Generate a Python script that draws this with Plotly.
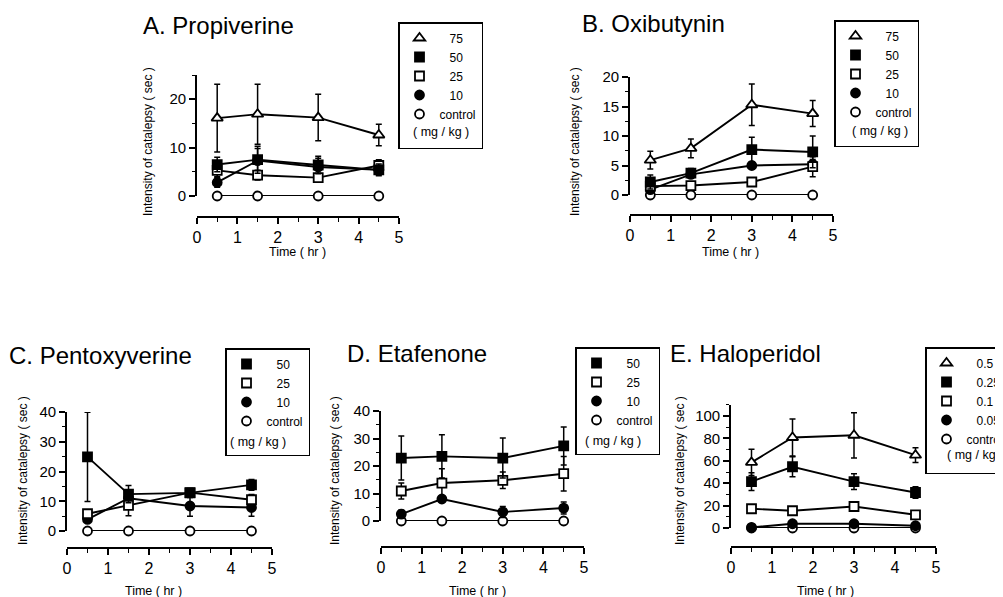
import plotly.graph_objects as go

# ---------------- data ----------------
times = [0.5, 1.5, 3, 4.5]

# A. Propiverine (mg/kg)
prop_75 = [16.1, 16.9, 16.2, 12.6]
prop_75_err = [7.0, 6.2, 4.8, 2.2]
prop_50 = [6.5, 7.5, 6.4, 5.4]
prop_50_err = [1.5, 2.8, 1.8, 1.2]
prop_25 = [5.3, 4.3, 3.8, 6.3]
prop_25_err = [1.3, 1.0, 0.9, 1.2]
prop_10 = [2.8, 7.3, 6.0, 5.4]
prop_10_err = [1.0, 2.5, 1.8, 1.0]
prop_ctl = [0, 0, 0, 0]

# B. Oxibutynin
oxi_75 = [5.9, 7.9, 15.3, 13.8]
oxi_75_err = [1.5, 1.6, 3.5, 2.2]
oxi_50 = [2.2, 3.7, 7.7, 7.3]
oxi_50_err = [1.2, 0.8, 2.1, 2.7]
oxi_25 = [1.5, 1.6, 2.2, 4.8]
oxi_25_err = [0.5, 0.5, 0.6, 1.7]
oxi_10 = [0.9, 3.5, 5.0, 5.2]
oxi_10_err = [0.5, 0.6, 0.6, 0.8]
oxi_ctl = [0, 0, 0, 0]

# C. Pentoxyverine
pent_50 = [24.9, 12.4, 12.8, 15.5]
pent_50_err = [15.0, 2.9, 1.5, 1.8]
pent_25 = [5.8, 8.6, 12.9, 10.5]
pent_25_err = [1.0, 3.5, 1.0, 1.8]
pent_10 = [3.9, 11.0, 8.4, 7.9]
pent_10_err = [1.0, 1.5, 3.4, 2.9]
pent_ctl = [0, 0, 0, 0]

# D. Etafenone
eta_50 = [22.9, 23.5, 22.9, 27.3]
eta_50_err = [8.0, 7.9, 7.3, 6.9]
eta_25 = [10.9, 13.8, 14.8, 17.2]
eta_25_err = [2.9, 5.2, 3.0, 6.3]
eta_10 = [2.5, 8.0, 3.3, 4.7]
eta_10_err = [1.5, 1.0, 2.0, 2.2]
eta_ctl = [0, 0, 0, 0]

# E. Haloperidol
halo_05 = [58.6, 80.8, 82.8, 65.0]
halo_05_err = [11.8, 16.5, 20.2, 6.6]
halo_025 = [41.4, 54.7, 41.4, 31.7]
halo_025_err = [8.0, 9.0, 7.0, 5.2]
halo_01 = [17.2, 15.4, 19.2, 11.8]
halo_01_err = [2.5, 2.5, 2.5, 2.0]
halo_005 = [0.5, 3.8, 3.8, 2.0]
halo_005_err = [0.5, 1.0, 1.0, 0.8]
halo_ctl = [0, 0, 0, 0]

x_ticks = [0, 1, 2, 3, 4, 5]

# ---------------- styles ----------------
STY = {
    "tri": dict(symbol="triangle-up", color="white", size=10),
    "fsq": dict(symbol="square", color="black", size=9),
    "osq": dict(symbol="square", color="white", size=9),
    "fci": dict(symbol="circle", color="black", size=9),
    "oci": dict(symbol="circle", color="white", size=9),
}

FONT = "Liberation Sans, Arial, Helvetica, sans-serif"
OFF = 8                     # page body margin
W, H = 1003 - OFF, 597 - OFF


def px(x):
    return (x - OFF) / W


def py(y):
    return 1 - (y - OFF) / H


NB = "\u00a0"

panels = [
    dict(title="A. Propiverine",
         series=[("75", prop_75, prop_75_err, "tri"), ("50", prop_50, prop_50_err, "fsq"),
                 ("25", prop_25, prop_25_err, "osq"), ("10", prop_10, prop_10_err, "fci"),
                 ("control", prop_ctl, None, "oci")],
         yr=[0, 25], ydt=10, ymin=5,
         xd=(197, 399), y0=196, ytop=75, xline=217,
         tpos=(141, 25), ytpos=(148, 142), xtpos=(297, 252),
         leg=(398, 22), mg=(411, 132)),
    dict(title="B. Oxibutynin",
         series=[("75", oxi_75, oxi_75_err, "tri"), ("50", oxi_50, oxi_50_err, "fsq"),
                 ("25", oxi_25, oxi_25_err, "osq"), ("10", oxi_10, oxi_10_err, "fci"),
                 ("control", oxi_ctl, None, "oci")],
         yr=[0, 20], ydt=5, ymin=2.5,
         xd=(630, 833), y0=195, ytop=77, xline=215,
         tpos=(580, 23), ytpos=(575, 142), xtpos=(730, 252),
         leg=(834, 20), mg=(850, 131)),
    dict(title="C. Pentoxyverine",
         series=[("50", pent_50, pent_50_err, "fsq"), ("25", pent_25, pent_25_err, "osq"),
                 ("10", pent_10, pent_10_err, "fci"), ("control", pent_ctl, None, "oci")],
         yr=[0, 40], ydt=10, ymin=5,
         xd=(67, 272), y0=531, ytop=412, xline=548,
         tpos=(7, 355), ytpos=(23, 471), xtpos=(153, 591),
         leg=(225, 348), mg=(228, 442)),
    dict(title="D. Etafenone",
         series=[("50", eta_50, eta_50_err, "fsq"), ("25", eta_25, eta_25_err, "osq"),
                 ("10", eta_10, eta_10_err, "fci"), ("control", eta_ctl, None, "oci")],
         yr=[0, 40], ydt=10, ymin=5,
         xd=(381, 584), y0=521, ytop=411, xline=547,
         tpos=(345, 353), ytpos=(335, 471), xtpos=(477, 591),
         leg=(575, 347), mg=(583, 441)),
    dict(title="E. Haloperidol",
         series=[("0.5", halo_05, halo_05_err, "tri"), ("0.25", halo_025, halo_025_err, "fsq"),
                 ("0.1", halo_01, halo_01_err, "osq"), ("0.05", halo_005, halo_005_err, "fci"),
                 ("control", halo_ctl, None, "oci")],
         yr=[0, 110], ydt=20, ymin=10,
         xd=(731, 936), y0=528, ytop=404.8, xline=547,
         tpos=(668, 353), ytpos=(680, 471), xtpos=(825, 591),
         leg=(925, 347), mg=(945, 455)),
]

fig = go.Figure()
layout = dict(
    width=W, height=H, autosize=False,
    margin=dict(l=0, r=0, t=0, b=0, autoexpand=False),
    paper_bgcolor="white", plot_bgcolor="rgba(0,0,0,0)",
    font=dict(family=FONT, color="black"),
    annotations=[],
)

for i, p in enumerate(panels, start=1):
    sfx = "" if i == 1 else str(i)
    xname, yname = f"x{sfx}", f"y{sfx}"
    legname = f"legend{sfx}"
    # data traces (control / lower doses first, higher doses on top)
    for label, vals, err, sty in reversed(p["series"]):
        s = STY[sty]
        tr = dict(
            x=times, y=vals, mode="lines+markers",
            line=dict(color="black", width=1.9),
            marker=dict(symbol=s["symbol"], size=s["size"], color=s["color"],
                        line=dict(color="black", width=1.8)),
            xaxis=xname, yaxis=yname, showlegend=False, cliponaxis=False,
            hoverinfo="skip",
        )
        if err is not None:
            tr["error_y"] = dict(type="data", array=err, visible=True,
                                 color="black", thickness=1.5, width=3)
        fig.add_trace(go.Scatter(**tr))
    # legend-only entries (markers only)
    for label, vals, err, sty in p["series"]:
        s = STY[sty]
        name = (NB * 3 + label) if label != "control" else label
        fig.add_trace(go.Scatter(
            x=[None], y=[None], mode="markers", name=name,
            marker=dict(symbol=s["symbol"], size=s["size"], color=s["color"],
                        line=dict(color="black", width=1.8)),
            xaxis=xname, yaxis=yname, legend=legname, showlegend=True))
    fig.add_trace(go.Scatter(
        x=[None], y=[None], mode="markers", name=NB,
        marker=dict(size=1, color="rgba(0,0,0,0)", line=dict(width=0)),
        xaxis=xname, yaxis=yname, legend=legname, showlegend=True))

    layout[f"xaxis{sfx}"] = dict(
        domain=[px(p["xd"][0]), px(p["xd"][1])], range=[0, 5],
        anchor="free", position=py(p["xline"]),
        showline=True, linecolor="black", linewidth=1.6,
        ticks="outside", ticklen=6, tickwidth=1.5, tickcolor="black",
        tickmode="array", tickvals=x_ticks, ticktext=[str(t) for t in x_ticks],
        minor=dict(ticks="outside", dtick=0.5, tick0=0, ticklen=4, tickwidth=1.2,
                   tickcolor="black", showgrid=False),
        showgrid=False, zeroline=False,
        tickfont=dict(size=16, family=FONT, color="black"),
    )
    layout[f"yaxis{sfx}"] = dict(
        domain=[py(p["y0"]), py(p["ytop"])], range=p["yr"], anchor=xname,
        showline=True, linecolor="black", linewidth=1.6,
        ticks="outside", ticklen=6, tickwidth=1.5, tickcolor="black",
        dtick=p["ydt"], tick0=0,
        minor=dict(ticks="outside", dtick=p["ymin"], tick0=0, ticklen=3.5,
                   tickwidth=1.2, tickcolor="black", showgrid=False),
        showgrid=False, zeroline=False,
        tickfont=dict(size=15, family=FONT, color="black"),
    )
    layout[legname] = dict(
        x=px(p["leg"][0]), y=py(p["leg"][1]), xanchor="left", yanchor="top",
        bordercolor="black", borderwidth=1.5, bgcolor="white",
        font=dict(size=12, family=FONT, color="black"),
        itemsizing="trace", tracegroupgap=0, traceorder="normal",
        itemclick=False, itemdoubleclick=False,
    )
    ann = layout["annotations"]
    ann.append(dict(text=p["title"], x=px(p["tpos"][0]), y=py(p["tpos"][1]),
                    xref="paper", yref="paper", xanchor="left", yanchor="middle",
                    showarrow=False, font=dict(size=24, family=FONT, color="black")))
    ann.append(dict(text="Intensity of catalepsy ( sec )", textangle=-90,
                    x=px(p["ytpos"][0]), y=py(p["ytpos"][1]),
                    xref="paper", yref="paper", xanchor="center", yanchor="middle",
                    showarrow=False, font=dict(size=12, family=FONT, color="black")))
    ann.append(dict(text="Time ( hr )", x=px(p["xtpos"][0]), y=py(p["xtpos"][1]),
                    xref="paper", yref="paper", xanchor="center", yanchor="middle",
                    showarrow=False, font=dict(size=12.5, family=FONT, color="black")))
    ann.append(dict(text="( mg / kg )", x=px(p["mg"][0]), y=py(p["mg"][1]),
                    xref="paper", yref="paper", xanchor="left", yanchor="middle",
                    showarrow=False, font=dict(size=12.5, family=FONT, color="black")))

fig.update_layout(**layout)
fig.write_html("out.html")
